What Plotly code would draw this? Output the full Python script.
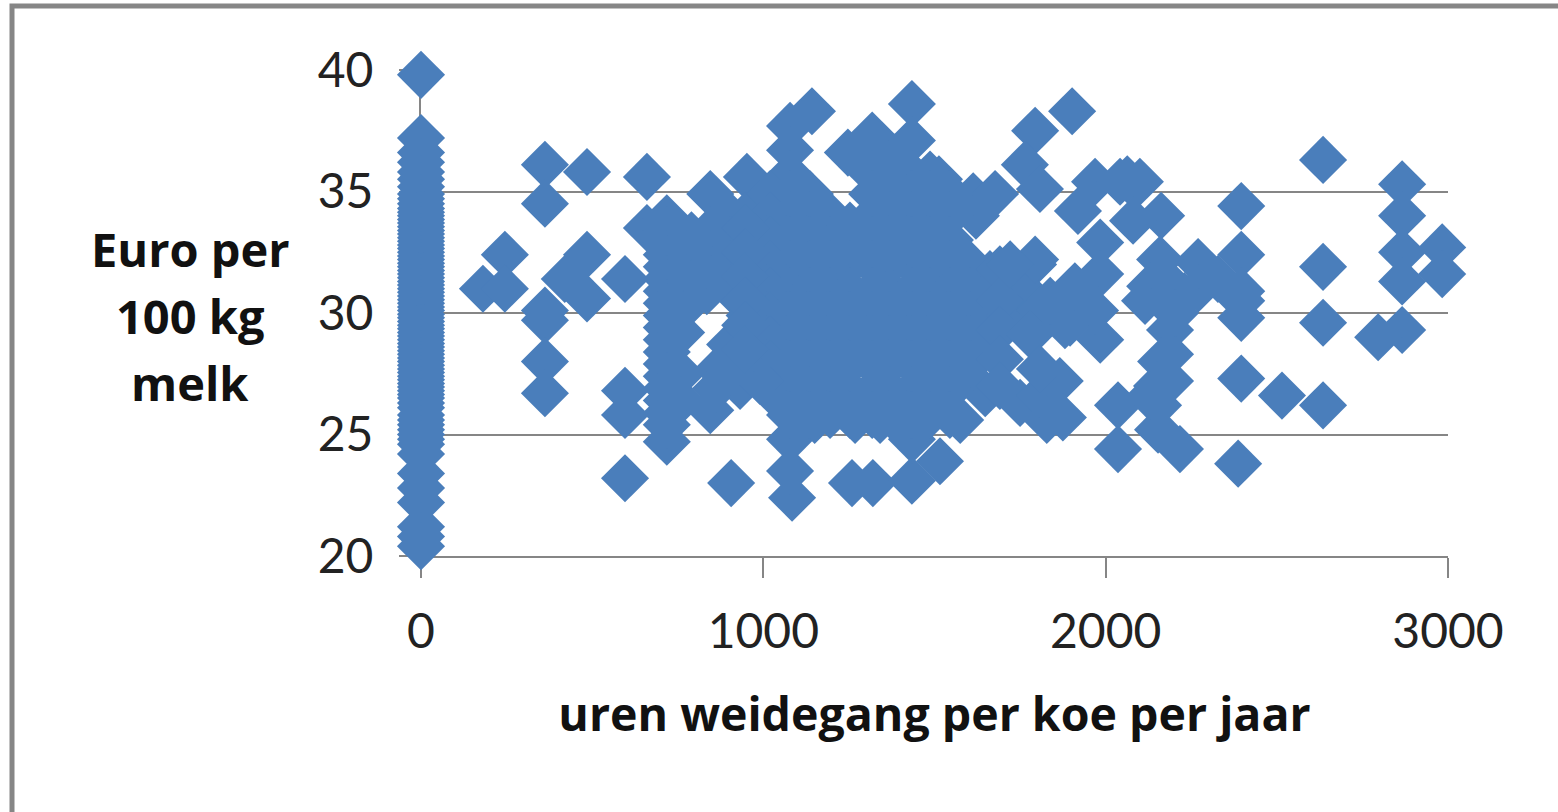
import plotly.graph_objects as go

# Farms with no grazing (x = 0)
euro_at_zero = [39.8, 37.2, 36.6, 36.2, 35.8, 35.5, 35.2, 34.9, 34.7, 34.5, 34.3, 34.15, 34.0, 33.85, 33.7, 33.55,
                33.4, 33.25, 33.1, 32.95, 32.8, 32.65, 32.5, 32.35, 32.2, 32.05, 31.9, 31.75, 31.6, 31.45,
                31.3, 31.15, 31.0, 30.85, 30.7, 30.55, 30.4, 30.25, 30.1, 29.95, 29.8, 29.65, 29.5, 29.35,
                29.2, 29.05, 28.9, 28.75, 28.6, 28.45, 28.3, 28.15, 28.0, 27.85, 27.7, 27.55, 27.4, 27.25,
                27.1, 26.95, 26.8, 26.65, 26.5, 26.3, 26.1, 25.8, 25.6, 25.4, 25.2, 25.0, 24.8, 24.6, 24.2,
                23.4, 22.8, 22.2, 21.2, 20.8, 20.4]

# Isolated farms
hours_outer = [181, 245, 245, 362, 362, 485, 362, 362, 362, 362, 420, 485, 485, 596, 660, 596, 596, 596,
               906, 1084, 1259, 1320, 1434, 1516, 2387,
               2635, 2635, 2635, 2635, 2866, 2866, 2866, 2866, 2866, 2983, 2983, 2796, 2515,
               2396, 2396, 2396, 2396, 2396, 2396, 2270, 2270, 2328, 2230,
               2162, 2063, 2100, 1969, 2042, 2080, 1902, 1794, 1764, 1808, 1919, 1984, 1984,
               1613, 1677, 1984, 2036, 2036,
               2153, 2217, 2153, 2188, 2188, 2188, 2115, 2159, 2130, 2203, 2162, 2150, 2130, 2203,
               1078, 1142, 1078, 1247, 1318, 1434, 1434, 1513, 1384, 1078, 1078, 1150, 1268, 1341, 1434,
               1575, 1648, 1560, 1621, 952, 845, 947, 660]
euro_outer = [31.0, 32.4, 31.0, 36.1, 34.5, 35.8, 30.1, 29.7, 28.0, 26.7, 31.4, 32.4, 30.6, 31.4, 35.6, 23.2, 26.8, 25.8,
              23.0, 22.4, 23.0, 23.0, 23.1, 23.9, 23.8,
              36.3, 31.9, 29.6, 26.2, 35.3, 34.0, 32.5, 31.3, 29.3, 32.7, 31.6, 29.0, 26.6,
              34.4, 32.4, 30.9, 30.5, 29.8, 27.3, 32.1, 31.0, 31.4, 30.7,
              34.0, 35.5, 35.4, 35.4, 35.4, 33.8, 38.3, 37.5, 36.1, 35.1, 34.2, 32.9, 31.6,
              34.8, 34.9, 28.9, 26.2, 24.4,
              25.2, 24.4, 26.2, 27.2, 28.3, 29.3, 30.5, 32.2, 31.1, 31.0, 28.0, 27.0, 26.6, 30.0,
              37.7, 38.3, 36.7, 36.6, 37.3, 38.6, 37.1, 35.5, 36.4, 23.5, 24.8, 25.6, 25.6, 25.6, 24.8,
              25.6, 26.7, 34.2, 34.0, 35.6, 34.9, 34.0, 33.5]

# Dense core, 1000-1700 hours
hours_core = [1078, 1318, 1434, 1487,
              1020, 1078, 1136, 1318, 1370, 1434, 1487, 1545,
              1020, 1078, 1136, 1195, 1318, 1370, 1434, 1487, 1545,
              1020, 1078, 1136, 1195, 1253, 1318, 1370, 1434, 1487, 1545,
              960, 1020, 1078, 1136, 1195, 1253, 1318, 1370, 1434, 1487, 1545, 1604, 1662,
              960, 1020, 1078, 1136, 1195, 1253, 1318, 1370, 1434, 1487, 1545, 1604, 1662, 1721,
              960, 1020, 1078, 1136, 1195, 1253, 1318, 1370, 1434, 1487, 1545, 1604, 1662, 1721,
              960, 1020, 1078, 1136, 1195, 1253, 1318, 1370, 1434, 1487, 1545, 1604, 1662,
              960, 1020, 1078, 1136, 1195, 1253, 1318, 1370, 1434, 1487, 1545, 1604,
              1020, 1078, 1136, 1195, 1253, 1318, 1370, 1434, 1487, 1545,
              1078, 1136, 1195, 1253, 1318, 1370, 1434, 1487, 1545]
euro_core = [35.7, 35.7, 35.7, 35.7,
             34.9, 34.9, 34.9, 34.9, 34.9, 34.9, 34.9, 34.9,
             34.0, 34.0, 34.0, 34.0, 34.0, 34.0, 34.0, 34.0, 34.0,
             33.0, 33.0, 33.0, 33.0, 33.6, 33.0, 33.0, 33.0, 33.0, 33.0,
             32.0, 32.0, 32.0, 32.0, 32.0, 32.0, 32.0, 32.0, 32.0, 32.0, 32.0, 32.0, 31.6,
             30.9, 30.9, 30.9, 30.9, 30.9, 30.9, 30.9, 30.9, 30.9, 30.9, 30.9, 30.9, 30.9, 30.9,
             29.9, 29.9, 29.9, 29.9, 29.9, 29.9, 29.9, 29.9, 29.9, 29.9, 29.9, 29.9, 29.9, 29.9,
             28.9, 28.9, 28.9, 28.9, 28.9, 28.9, 28.9, 28.9, 28.9, 28.9, 28.9, 28.9, 28.9,
             27.9, 27.9, 27.9, 27.9, 27.9, 27.9, 27.9, 27.9, 27.9, 27.9, 27.9, 27.9,
             26.8, 26.8, 26.8, 26.8, 26.8, 26.8, 26.8, 26.8, 26.8, 26.8,
             25.8, 25.8, 25.8, 25.8, 25.8, 25.8, 25.8, 25.8, 25.8]

# Left group, 700-950 hours
hours_left = [718, 718, 718, 718, 718, 718, 718, 718, 718, 718,
              718, 718, 718, 718, 718, 718, 718, 718, 718,
              760, 760, 760, 760, 760,
              790, 790, 790, 790,
              835, 845, 845, 845, 845,
              868, 862, 888, 932, 990,
              903, 903, 903, 903, 903, 903,
              947, 947, 947, 947, 947, 947]
euro_left = [33.9, 32.9, 31.9, 30.9, 29.9, 28.9, 27.9, 26.9, 25.9, 24.7,
             33.4, 32.4, 31.4, 30.4, 29.4, 28.4, 27.4, 26.4, 25.4,
             30.9, 30.1, 29.2, 27.5, 26.4,
             33.2, 32.2, 31.2, 30.5,
             30.9, 33.4, 32.4, 31.4, 26.0,
             27.7, 26.9, 27.4, 27.0, 27.2,
             34.0, 33.0, 32.0, 31.0, 28.7, 27.6,
             33.5, 32.5, 31.5, 30.5, 29.5, 28.5]

# Right group, 1700-2000 hours
hours_right = [1788, 1691, 1750, 1866, 1808, 1691, 1691, 1779, 1896, 1691, 1691, 1750, 1808, 1866,
               1808, 1828, 1875, 1925, 1969, 1881, 1794, 1721, 1838, 1910]
euro_right = [32.0, 31.8, 31.1, 30.1, 30.1, 30.5, 29.3, 29.1, 29.6, 28.1, 27.0, 26.3, 26.6, 27.2,
              27.7, 25.6, 25.7, 30.5, 30.1, 29.5, 32.2, 32.0, 30.5, 31.1]

x_values = [0] * len(euro_at_zero) + hours_outer + hours_core + hours_left + hours_right
y_values = euro_at_zero + euro_outer + euro_core + euro_left + euro_right

x_ticks = [0, 1000, 2000, 3000]
y_ticks = [20, 25, 30, 35, 40]
x_title = "uren weidegang per koe per jaar"
y_title_lines = ["Euro per", "100 kg", "melk"]

GREY = "#868686"
BLUE = "#4a7ebb"
TICK_FONT = "Lato"
TITLE_FONT = "Open Sans"

L, R, T, B = 421, 1448, 70, 556
W, H = 1558, 812


def px_x(p):
    return (p - L) / (R - L)


def px_y(p):
    return (B - p) / (B - T)


fig = go.Figure(go.Scatter(
    x=x_values, y=y_values, mode="markers", cliponaxis=False,
    marker=dict(symbol="diamond", size=37, color=BLUE, line=dict(width=0)),
))

annotations = [
    dict(text=t, xref="paper", yref="paper", x=px_x(190), y=px_y(py), showarrow=False,
         xanchor="center", yanchor="middle",
         font=dict(family=TITLE_FONT, size=47, color="#111111", weight="bold"))
    for t, py in zip(y_title_lines, [249, 316, 383])
]

fig.update_layout(
    width=W, height=H,
    margin=dict(l=L, r=W - R, t=T, b=H - B, pad=0),
    paper_bgcolor="white", plot_bgcolor="white",
    showlegend=False,
    annotations=annotations,
    shapes=[dict(type="rect", xref="paper", yref="paper", layer="below",
                 x0=px_x(12), x1=px_x(1700), y0=px_y(900), y1=px_y(6),
                 line=dict(color=GREY, width=5), fillcolor="white")],
    xaxis=dict(range=[0, 3000], tickvals=x_ticks, ticks="outside", ticklen=20, tickwidth=2,
               tickcolor=GREY, showline=True, linecolor=GREY, linewidth=2, showgrid=False,
               zeroline=False, ticklabelstandoff=12, layer="below traces",
               tickfont=dict(family=TICK_FONT, size=48, color="#222222"),
               title=dict(text=x_title, standoff=42,
                          font=dict(family=TITLE_FONT, size=46.5, color="#111111", weight="bold"))),
    yaxis=dict(range=[20, 40], tickvals=y_ticks, ticks="outside", ticklen=20, tickwidth=2,
               tickcolor=GREY, showline=True, linecolor=GREY, linewidth=2, showgrid=True,
               gridcolor=GREY, gridwidth=2, zeroline=False, ticklabelstandoff=16, layer="below traces",
               tickfont=dict(family=TICK_FONT, size=48, color="#222222")),
)

fig.write_html("out.html", config={"displayModeBar": False},
               post_script="document.body.style.margin='0';")
